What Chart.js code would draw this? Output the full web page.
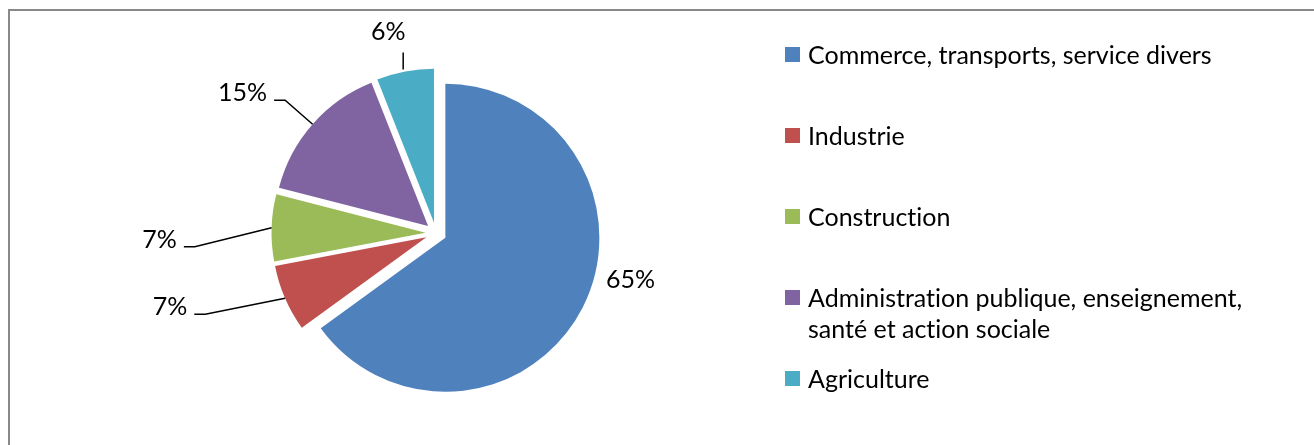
<!DOCTYPE html>
<html>
<head>
<meta charset="utf-8">
<script src="https://cdn.jsdelivr.net/npm/chart.js@4"></script>
<style>
  html, body { margin: 0; padding: 0; background: #fff; }
  #wrap { position: relative; width: 1314px; height: 445px; overflow: hidden; }
  #frame { position: absolute; left: 8px; top: 9px; width: 1400px; height: 500px;
           border: 2px solid #898989; box-sizing: border-box; }
  #pie { position: absolute; left: 0; top: 0; }
  #legend { position: absolute; left: 785px; top: 39px; width: 505px;
            font-family: Lato, sans-serif; font-size: 25px; color: #000;
            font-variant-ligatures: none; }
  .item { height: 81px; display: flex; align-items: flex-start; }
  .box { width: 15px; height: 15px; flex: none; margin-top: 8px; margin-right: 8px; }
  .txt { line-height: 31px; }
</style>
</head>
<body>
<div id="wrap">
  <div id="frame"></div>
  <canvas id="pie" width="1314" height="445"></canvas>
  <div id="legend"></div>
</div>
<script>
// secteurs (part des emplois, %)
const sectors = [
  'Commerce, transports, service divers',
  'Industrie',
  'Construction',
  'Administration publique, enseignement, santé et action sociale',
  'Agriculture'
];
const shares = [65, 7, 7, 15, 6];
const colors = ['#4F81BD', '#C0504D', '#9BBB59', '#8064A2', '#4BACC6'];

// légende à droite
const legend = document.getElementById('legend');
sectors.forEach((name, i) => {
  const row = document.createElement('div');
  row.className = 'item';
  row.innerHTML = `<span class="box" style="background:${colors[i]}"></span><span class="txt">${name}</span>`;
  legend.appendChild(row);
});

// éclatement des parts (comme dans Excel)
const explode = {
  id: 'explode',
  afterDatasetUpdate(chart, args, opts) {
    args.meta.data.forEach(arc => {
      const mid = (arc.startAngle + arc.endAngle) / 2;
      arc.x += Math.cos(mid) * opts.distance;
      arc.y += Math.sin(mid) * opts.distance;
    });
  }
};

// étiquettes % avec traits de rappel
const sliceLabels = {
  id: 'sliceLabels',
  afterDatasetsDraw(chart, args, opts) {
    const ctx = chart.ctx;
    const arcs = chart.getDatasetMeta(0).data;
    ctx.save();
    ctx.font = opts.font;
    ctx.fillStyle = '#000';
    ctx.strokeStyle = '#000';
    ctx.lineWidth = 1.5;
    ctx.textAlign = 'center';
    ctx.textBaseline = 'middle';
    arcs.forEach((arc, i) => {
      const mid = (arc.startAngle + arc.endAngle) / 2;
      const ex = arc.x + Math.cos(mid) * arc.outerRadius;
      const ey = arc.y + Math.sin(mid) * arc.outerRadius;
      const [dx, dy] = opts.nudges[i];
      const lx = ex + dx, ly = ey + dy;
      const text = shares[i] + '%';
      const w = ctx.measureText(text).width;
      ctx.fillText(text, lx, ly);
      const kind = opts.leaders[i];
      ctx.beginPath();
      if (kind === 'side') {
        const x0 = lx + w / 2 + 7;
        ctx.moveTo(x0, ly + 7);
        ctx.lineTo(x0 + 11, ly + 7);
        ctx.lineTo(ex, ey);
        ctx.stroke();
      } else if (kind === 'up') {
        ctx.moveTo(ex - 2, ey - 2);
        ctx.lineTo(ex - 2, ly + 20);
        ctx.stroke();
      }
    });
    ctx.restore();
  }
};

new Chart(document.getElementById('pie'), {
  type: 'pie',
  data: {
    labels: sectors,
    datasets: [{
      data: shares,
      backgroundColor: colors,
      borderWidth: 0
    }]
  },
  options: {
    responsive: false,
    animation: false,
    layout: { padding: { left: 100, right: 542, top: 79, bottom: 58 } },
    plugins: {
      legend: { display: false },
      tooltip: { enabled: false },
      explode: { distance: 10.5 },
      sliceLabels: {
        font: '25px Lato, sans-serif',
        nudges: [[48, -28], [-115, 9], [-112, 12], [-70, -31], [-17, -39]],
        leaders: ['none', 'side', 'side', 'side', 'up']
      }
    }
  },
  plugins: [explode, sliceLabels]
});
</script>
</body>
</html>
